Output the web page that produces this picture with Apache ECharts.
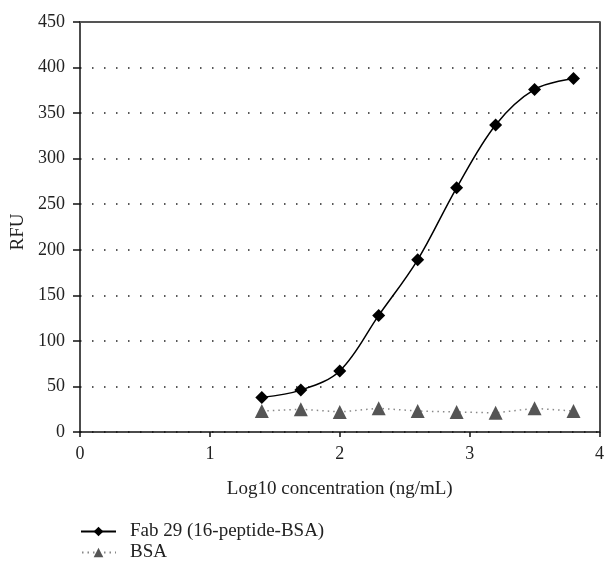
<!DOCTYPE html>
<html lang="en">
<head>
    <meta charset="UTF-8">
    <title>RFU</title>
    <script src="https://cdn.jsdelivr.net/npm/echarts@6/dist/echarts.min.js"></script>
    <style type="text/css">
        html, body { margin: 0; padding: 0; background: #fff; }
        #chart { width: 607px; height: 565px; }
    </style>
</head>
<body>
<div id="chart"></div>
<script type="text/javascript">
    // log10 concentration
    var concentrations = [1.4, 1.7, 2.0, 2.3, 2.6, 2.9, 3.2, 3.5, 3.8];
    var fabValues = [38, 46, 67, 128, 189, 268, 337, 376, 388];
    var bsaValues = [23, 25, 22, 26, 23, 22, 21, 26, 23];
    var seriesNames = ['Fab 29 (16-peptide-BSA)', 'BSA'];

    var serif = 'Liberation Serif';

    function pairs(xs, ys) {
        var out = [];
        for (var i = 0; i < xs.length; i++) {
            out.push([xs[i], ys[i]]);
        }
        return out;
    }

    var myChart = echarts.init(document.getElementById('chart'));
    var option = {
        animation: false,
        textStyle: { fontFamily: serif },
        grid: { left: 80, right: 4, top: 22, bottom: 133 },
        legend: {
            orient: 'vertical',
            left: 80,
            top: 522,
            padding: 0,
            itemWidth: 35,
            itemHeight: 12,
            itemGap: 2,
            data: seriesNames,
            textStyle: { fontFamily: serif, fontSize: 19, color: '#222', padding: [0, 0, 0, 9] }
        },
        xAxis: [
            {
                type: 'value',
                min: 0, max: 4, interval: 1,
                name: 'Log10 concentration (ng/mL)',
                nameLocation: 'middle',
                nameGap: 48,
                nameTextStyle: { fontFamily: serif, fontSize: 19, color: '#222' },
                axisLine: { lineStyle: { color: '#111', width: 1.5 } },
                axisTick: { length: 5, lineStyle: { color: '#111', width: 1.5 } },
                axisLabel: { fontFamily: serif, fontSize: 18, color: '#222', margin: 13 },
                splitLine: { show: false }
            },
            {
                // top frame line
                type: 'value',
                position: 'top',
                min: 0, max: 4,
                axisLine: { show: true, onZero: false, lineStyle: { color: '#555', width: 2 } },
                axisTick: { show: false },
                axisLabel: { show: false },
                splitLine: { show: false }
            }
        ],
        yAxis: [
            {
                type: 'value',
                min: 0, max: 450, interval: 50,
                name: 'RFU',
                nameLocation: 'middle',
                nameGap: 52,
                nameTextStyle: { fontFamily: serif, fontSize: 19, color: '#222', padding: [0, 10, 0, 0] },
                axisLine: { show: true, lineStyle: { color: '#111', width: 1.5 } },
                axisTick: { show: true, length: 7, lineStyle: { color: '#111', width: 1.5 } },
                axisLabel: { fontFamily: serif, fontSize: 18, color: '#222', margin: 15 },
                splitLine: {
                    show: true,
                    lineStyle: { color: '#222', width: 1.5, type: [1.5, 10.5], dashOffset: -12 }
                }
            },
            {
                // right frame line
                type: 'value',
                position: 'right',
                min: 0, max: 450,
                axisLine: { show: true, onZero: false, lineStyle: { color: '#111', width: 1.5 } },
                axisTick: { show: false },
                axisLabel: { show: false },
                splitLine: { show: false }
            }
        ],
        series: [
            {
                name: seriesNames[0],
                type: 'line',
                smooth: 0.35,
                data: pairs(concentrations, fabValues),
                symbol: 'diamond',
                symbolSize: 13,
                itemStyle: { color: '#000' },
                lineStyle: { color: '#000', width: 1.5 },
                z: 3
            },
            {
                name: seriesNames[1],
                type: 'line',
                data: pairs(concentrations, bsaValues),
                symbol: 'triangle',
                symbolSize: 14,
                itemStyle: { color: '#555' },
                lineStyle: { color: '#888', width: 1.5, type: [1.5, 4] },
                z: 2
            }
        ]
    };
    myChart.setOption(option);
</script>
</body>
</html>
